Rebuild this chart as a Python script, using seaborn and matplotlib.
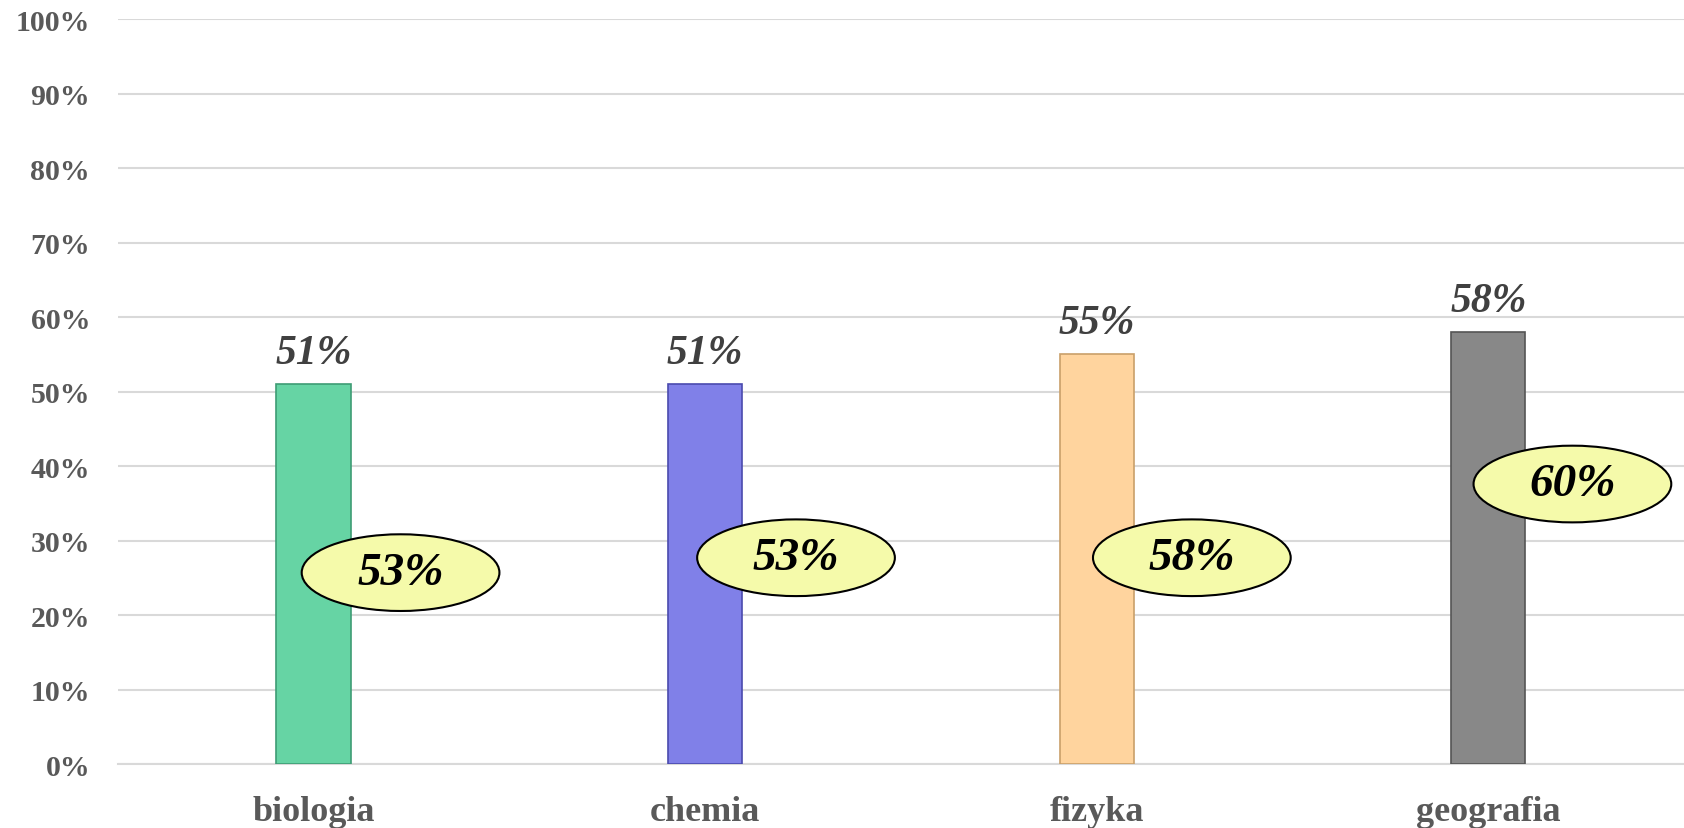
import matplotlib
matplotlib.use("Agg")
import matplotlib.pyplot as plt
from matplotlib.patches import Ellipse
import seaborn as sns
import pandas as pd

categories = ["biologia", "chemia", "fizyka", "geografia"]
values = [51, 51, 55, 58]
compare_values = [53, 53, 58, 60]
bar_colors = ["#66D4A4", "#8080E8", "#FFD49E", "#888888"]
edge_colors = ["#3E9C74", "#4A4AAE", "#C9A06A", "#555555"]
yticks = list(range(0, 101, 10))
ytick_labels = [f"{v}%" for v in yticks]

# ellipse callout placement (x offset from bar, y in % units)
ell_dx = [0.222, 0.232, 0.243, 0.215]
ell_y = [25.7, 27.7, 27.7, 37.6]

sns.set_theme(style="white")
plt.rcParams["font.family"] = ["Liberation Serif", "DejaVu Serif"]

fig = plt.figure(figsize=(16.84, 8.29), dpi=100)
ax = fig.add_axes([0.070, 0.0772, 0.930, 0.8982])

df = pd.DataFrame({"cat": categories, "val": values})
sns.barplot(data=df, x="cat", y="val", palette=bar_colors, hue="cat",
            width=0.19, dodge=False, legend=False, ax=ax, saturation=1,
            linewidth=1.2, zorder=3)
bars = [p for p in ax.patches]
for p, ec in zip(bars, edge_colors):
    p.set_edgecolor(ec)

ax.set_ylim(0, 100)
ax.set_xlim(-0.5, 3.5)
ax.set_yticks(yticks)
ax.set_yticklabels(ytick_labels)
ax.grid(axis="y", color="#D9D9D9", linewidth=1.5, zorder=0)
ax.set_axisbelow(True)
for s in ["top", "right", "left"]:
    ax.spines[s].set_visible(False)
ax.spines["bottom"].set_color("#D9D9D9")
ax.spines["bottom"].set_linewidth(1.5)
ax.set_xlabel("")
ax.set_ylabel("")
ax.tick_params(axis="y", length=0, pad=20, labelsize=21.5, labelcolor="#595959")
ax.tick_params(axis="x", length=0, pad=22, labelsize=26, labelcolor="#595959")
for lab in ax.get_yticklabels() + ax.get_xticklabels():
    lab.set_fontweight("bold")

for cont in ax.containers:
    labs = []
    for b in cont:
        labs.append(f"{b.get_height():.0f}%" if b is not None else "")
    ax.bar_label(cont, labels=labs, padding=9, fontsize=30,
                 fontweight="bold", fontstyle="italic", color="#404040")

for i, (cv, dx, ey) in enumerate(zip(compare_values, ell_dx, ell_y)):
    e = Ellipse((i + dx, ey), width=0.505, height=10.3, facecolor="#F5FAAA",
                edgecolor="black", linewidth=1.5, zorder=5)
    ax.add_patch(e)
    ax.text(i + dx, ey, f"{cv}%", ha="center", va="center", fontsize=34,
            fontweight="bold", fontstyle="italic", color="black", zorder=6)

fig.savefig("out.png", dpi=100)
